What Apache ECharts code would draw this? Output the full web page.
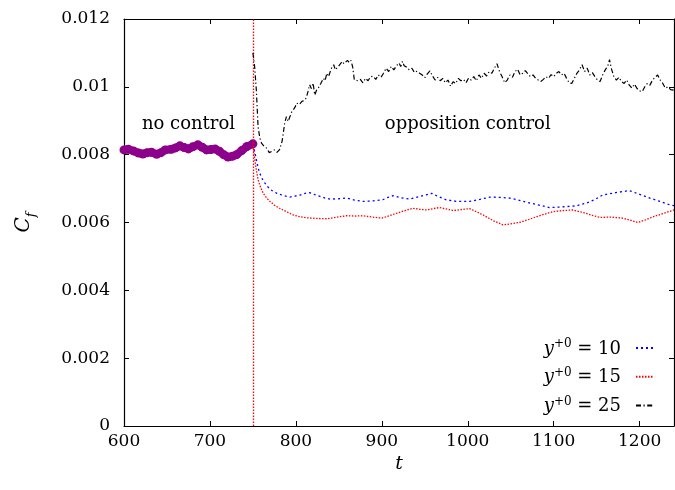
<!DOCTYPE html>
<html><head><meta charset="utf-8">
<script src="https://cdn.jsdelivr.net/npm/echarts@6/dist/echarts.min.js"></script>
<style>html,body{margin:0;padding:0;background:#fff}#c{width:675px;height:490px}</style>
</head><body><div id="c"></div>
<script>
// ---- data ----
const noControl = [[600,0.00814],[605,0.00816],[611,0.00811],[617,0.00805],[622,0.00802],[627,0.00806],[632,0.00807],[638,0.00801],[643,0.00806],[648,0.00814],[655,0.00816],[660,0.00820],[665,0.00826],[670,0.00821],[675,0.00817],[680,0.00823],[686,0.00829],[691,0.00822],[696,0.00814],[701,0.00815],[706,0.00817],[711,0.00810],[716,0.00800],[721,0.00793],[726,0.00795],[731,0.00800],[737,0.00812],[743,0.00824],[750,0.00832]];

const y10 = [[750,0.00830],[752,0.00810],[754,0.00785],[756,0.00762],[758,0.00745],[761,0.00728],[764,0.00716],[767,0.00706],[770,0.00698],[774,0.00691],[778,0.00686],[785,0.00680],[793,0.00675],[799,0.00678],[805,0.00681],[811,0.00686],[816,0.00688],[822,0.00682],[828,0.00677],[834,0.00672],[840,0.00669],[850,0.00670],[859,0.00672],[868,0.00666],[878,0.00662],[890,0.00664],[901,0.00667],[907,0.00674],[913,0.00679],[922,0.00673],[932,0.00669],[945,0.00677],[958,0.00686],[966,0.00676],[975,0.00667],[988,0.00662],[1002,0.00662],[1014,0.00668],[1026,0.00675],[1037,0.00674],[1049,0.00672],[1058,0.00667],[1068,0.00660],[1082,0.00652],[1095,0.00644],[1110,0.00646],[1126,0.00649],[1138,0.00657],[1148,0.00668],[1157,0.00681],[1172,0.00688],[1188,0.00694],[1200,0.00683],[1212,0.00672],[1224,0.00662],[1235,0.00652],[1240,0.00650]];

const y15 = [[750,0.00830],[752,0.00790],[754,0.00755],[756,0.00726],[759,0.00703],[762,0.00686],[766,0.00672],[770,0.00662],[775,0.00651],[781,0.00642],[789,0.00632],[797,0.00622],[805,0.00617],[812,0.00614],[824,0.00612],[836,0.00611],[848,0.00616],[859,0.00620],[868,0.00619],[878,0.00620],[889,0.00616],[900,0.00613],[909,0.00620],[917,0.00627],[927,0.00635],[936,0.00642],[944,0.00639],[952,0.00637],[960,0.00641],[967,0.00644],[975,0.00640],[983,0.00635],[992,0.00638],[1002,0.00641],[1010,0.00632],[1018,0.00622],[1030,0.00605],[1041,0.00593],[1050,0.00596],[1060,0.00600],[1070,0.00608],[1080,0.00617],[1090,0.00625],[1099,0.00632],[1110,0.00635],[1122,0.00637],[1130,0.00632],[1138,0.00627],[1146,0.00620],[1154,0.00615],[1166,0.00616],[1180,0.00613],[1190,0.00606],[1198,0.00600],[1207,0.00608],[1216,0.00617],[1228,0.00627],[1240,0.00637]];

const y25 = [[750,0.01100],[752,0.01060],[754,0.00990],[756,0.00883],[758,0.00850],[760,0.00834],[763,0.00825],[766,0.00819],[769,0.00806],[772,0.00810],[775,0.00814],[778,0.00807],[781,0.00815],[784,0.00840],[787,0.00893],[789,0.00912],[791,0.00898],[793,0.00903],[795,0.00925],[797,0.00932],[799,0.00940],[801,0.00952],[804,0.00948],[807,0.00957],[810,0.00960],[812,0.00967],[814,0.00985],[816,0.01006],[818,0.00995],[820,0.01011],[822,0.00976],[824,0.00990],[826,0.00996],[829,0.01010],[832,0.01025],[834,0.01018],[836,0.01040],[838,0.01030],[840,0.01045],[842,0.01058],[844,0.01065],[846,0.01050],[848,0.01055],[850,0.01062],[852,0.01065],[854,0.01075],[856,0.01068],[858,0.01070],[860,0.01078],[862,0.01072],[864,0.01078],[866,0.01060],[868,0.01021],[870,0.01016],[872,0.01018],[875,0.01022],[878,0.01012],[881,0.01025],[884,0.01018],[887,0.01030],[890,0.01031],[893,0.01022],[896,0.01035],[899,0.01028],[902,0.01040],[905,0.01055],[908,0.01045],[911,0.01060],[914,0.01050],[917,0.01062],[920,0.01070],[922,0.01060],[924,0.01075],[926,0.01062],[929,0.01058],[932,0.01050],[935,0.01055],[938,0.01042],[941,0.01046],[944,0.01040],[947,0.01035],[950,0.01027],[953,0.01038],[956,0.01047],[959,0.01032],[962,0.01020],[965,0.01028],[968,0.01018],[971,0.01025],[974,0.01012],[977,0.01020],[980,0.01002],[983,0.01015],[986,0.01010],[989,0.01025],[992,0.01018],[995,0.01022],[998,0.01012],[1001,0.01026],[1004,0.01020],[1007,0.01030],[1010,0.01018],[1013,0.01035],[1016,0.01025],[1019,0.01040],[1022,0.01032],[1025,0.01045],[1028,0.01040],[1031,0.01055],[1034,0.01068],[1037,0.01045],[1040,0.01030],[1043,0.01012],[1046,0.01020],[1049,0.01035],[1052,0.01028],[1055,0.01045],[1058,0.01052],[1061,0.01035],[1064,0.01040],[1067,0.01048],[1070,0.01038],[1073,0.01030],[1076,0.01035],[1079,0.01025],[1082,0.01020],[1085,0.01016],[1088,0.01022],[1091,0.01030],[1094,0.01025],[1097,0.01036],[1100,0.01030],[1103,0.01040],[1106,0.01045],[1109,0.01035],[1112,0.01040],[1115,0.01025],[1118,0.01012],[1121,0.01010],[1124,0.01025],[1127,0.01040],[1130,0.01050],[1133,0.01065],[1136,0.01045],[1139,0.01055],[1142,0.01035],[1145,0.01042],[1148,0.01030],[1151,0.01020],[1154,0.01016],[1157,0.01035],[1160,0.01050],[1163,0.01062],[1165,0.01080],[1167,0.01055],[1170,0.01030],[1173,0.01020],[1176,0.01028],[1179,0.01015],[1182,0.01010],[1185,0.01020],[1188,0.01005],[1191,0.00996],[1194,0.01008],[1197,0.00995],[1200,0.00988],[1203,0.00986],[1206,0.01000],[1209,0.01010],[1212,0.01005],[1215,0.01020],[1218,0.01028],[1221,0.01035],[1224,0.01020],[1227,0.01010],[1230,0.00996],[1233,0.01000],[1236,0.00992],[1240,0.00990]];

const controlStart = 750;
const legendNames = ['10','15','25'];
const regionLabels = [{text:'no control', t:675, cf:0.0089}, {text:'opposition control', t:1000, cf:0.0089}];

// ---- chart ----
const FONT = 'DejaVu Serif';
const chart = echarts.init(document.getElementById('c'), null, {renderer:'canvas'});
const tickStyle = {inside:true, length:5, lineStyle:{color:'#000', width:1}};
const lineAx = {onZero:false, lineStyle:{color:'#000', width:1.2}};
const option = {
  animation:false,
  grid:{left:124, right:1, top:19, bottom:64, containLabel:false},
  legend:{
    data:legendNames, orient:'vertical', right:20, top:338, align:'right', padding:0,
    itemWidth:18, itemHeight:14, itemGap:8.7, selectedMode:false,
    itemStyle:{color:'transparent', borderColor:'transparent', borderWidth:0},
    formatter: n => '{i|y}{s|+0}{n| = ' + n + '}',
    textStyle:{padding:[0,10,0,0], rich:{
      i:{fontFamily:FONT, fontStyle:'italic', fontSize:18, lineHeight:20, color:'#000', verticalAlign:'bottom'},
      s:{fontFamily:FONT, fontSize:12, lineHeight:12, color:'#000', verticalAlign:'top'},
      n:{fontFamily:FONT, fontSize:18, lineHeight:20, color:'#000', verticalAlign:'bottom'}
    }}
  },
  xAxis:[{
    type:'value', min:600, max:1240, interval:100,
    axisLine:lineAx, axisTick:tickStyle, splitLine:{show:false},
    axisLabel:{fontFamily:FONT, fontSize:17, color:'#000', margin:7, showMaxLabel:false, formatter: v => String(v)},
    name:'t', nameLocation:'middle', nameGap:27,
    nameTextStyle:{fontFamily:FONT, fontStyle:'italic', fontSize:19, color:'#000'}
  },{
    type:'value', position:'top', min:600, max:1240, interval:100,
    axisLine:lineAx, axisTick:tickStyle, splitLine:{show:false}, axisLabel:{show:false}
  }],
  yAxis:[{
    type:'value', min:0, max:0.012, interval:0.002,
    axisLine:lineAx, axisTick:tickStyle, splitLine:{show:false},
    axisLabel:{fontFamily:FONT, fontSize:17, color:'#000', margin:14,
      formatter: v => v===0 ? '0' : String(+v.toFixed(4))},
    name:'{c|C}{f|f}', nameLocation:'middle', nameGap:86, nameRotate:90,
    nameTextStyle:{rich:{
      c:{fontFamily:FONT, fontStyle:'italic', fontSize:20, color:'#000', lineHeight:24, verticalAlign:'top'},
      f:{fontFamily:FONT, fontStyle:'italic', fontSize:13, color:'#000', lineHeight:24, verticalAlign:'bottom'}
    }}
  },{
    type:'value', position:'right', min:0, max:0.012, interval:0.002,
    axisLine:lineAx, axisTick:tickStyle, splitLine:{show:false}, axisLabel:{show:false}
  }],
  series:[
    {name:'nc', type:'line', data:noControl, symbol:'circle', symbolSize:9, showSymbol:true,
     itemStyle:{color:'#8c008c'}, lineStyle:{color:'#8c008c', width:8}, z:2},
    {name:'10', type:'line', data:y10, symbol:'none', lineStyle:{color:'#0000ff', width:1.3, type:[2,3]}, itemStyle:{color:'#0000ff'}, z:3},
    {name:'15', type:'line', data:y15, symbol:'none', lineStyle:{color:'#ff0000', width:1.3, type:[1.5,1.5]}, itemStyle:{color:'#ff0000'}, z:4,
     markLine:{symbol:'none', silent:true, label:{show:false}, animation:false,
       lineStyle:{color:'#ff0000', width:1.3, type:[1.5,1.5]}, data:[{xAxis:controlStart}]}},
    {name:'25', type:'line', data:y25, symbol:'none', lineStyle:{color:'#000', width:1.2, type:[5,2.5,1.2,2.5]}, itemStyle:{color:'#000'}, z:5}
  ]
};
chart.setOption(option);
// region labels placed through the axis scales
const gfx = regionLabels.map(r => {
  const p = chart.convertToPixel({xAxisIndex:0, yAxisIndex:0}, [r.t, r.cf]);
  return {type:'text', x:p[0], y:p[1], style:{text:r.text, fontFamily:FONT, fontSize:18, fill:'#000', align:'center', verticalAlign:'middle'}};
});
chart.setOption({graphic:gfx});
</script></body></html>
